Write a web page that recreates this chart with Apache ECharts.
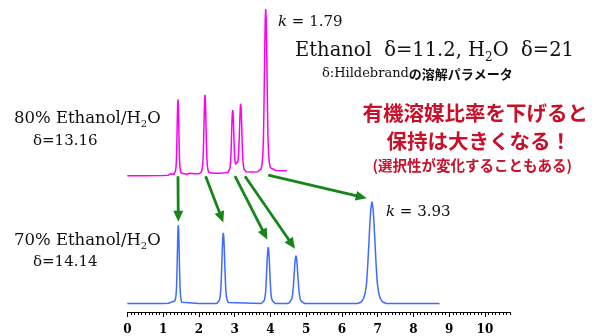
<!DOCTYPE html>
<html><head><meta charset="utf-8">
<script src="https://cdn.jsdelivr.net/npm/echarts@6/dist/echarts.min.js"></script>
<style>html,body{margin:0;padding:0;background:#fff}#c{width:599px;height:336px}</style>
</head><body><div id="c"></div>
<script>
// ---- data (retention time in min, detector signal) ----
const xTickLabels = ['0','1','2','3','4','5','6','7','8','9','10'];

// 80% Ethanol/H2O trace (magenta)
const magentaTrace = [
  [0,0],[0.5,0],[1.0,0.2],[1.15,0.5],[1.22,2],[1.27,1],[1.302,1.3],
  [1.331,2.5],[1.348,4.9],[1.363,9],[1.374,16.5],[1.383,28.5],[1.391,43.5],[1.4,60],[1.409,72],[1.417,76.4],
  [1.425,72],[1.434,60],[1.443,43.5],[1.451,28.5],[1.46,16.5],[1.471,9],[1.486,4.9],[1.503,2.6],[1.532,1.5],
  [1.65,1.5],[1.75,2.5],[1.8,2.8],[1.88,2],[2.0,2],
  [2.033,2.2],[2.068,3.4],[2.089,5.7],[2.106,10.1],[2.12,18],[2.131,30.6],[2.141,46.3],[2.152,63.7],[2.162,76.3],[2.172,81],
  [2.182,76.3],[2.192,63.7],[2.203,46.3],[2.214,30.6],[2.224,18],[2.238,10.1],[2.255,5.7],[2.276,3.4],[2.311,2.6],
  [2.4,2.5],[2.6,2.5],[2.75,3],
  [2.808,3.2],[2.843,4.5],[2.864,6.5],[2.881,10.5],[2.895,18],[2.906,29],[2.916,42],[2.926,55],[2.937,62.5],[2.947,65.7],
  [2.957,62.5],[2.967,55],[2.978,42.5],[2.989,30],[2.999,20],[3.013,14],[3.03,11.5],[3.055,10.7],[3.075,11.5],
  [3.092,14.5],[3.104,18],[3.114,24],[3.124,32],[3.135,43],[3.147,57],[3.159,68],[3.17,72],
  [3.181,68],[3.193,57],[3.205,42],[3.216,28],[3.228,17.5],[3.244,10.5],[3.263,6.5],[3.286,4.7],[3.326,4],[3.5,3.8],[3.65,4],
  [3.698,4.1],[3.741,6.7],[3.767,11.6],[3.789,20.5],[3.806,36.8],[3.819,62.8],[3.831,95.2],[3.845,131],[3.857,157],[3.87,166.7],
  [3.883,157],[3.895,131],[3.909,95.5],[3.921,63.5],[3.934,37.5],[3.951,21.5],[3.973,12.5],[3.999,8],[4.042,6],[4.15,5.2],[4.46,5]
];

// 70% Ethanol/H2O trace (blue)
const blueTrace = [
  [0,0],[0.5,0],[1.0,0],[1.15,0.2],[1.2,1.8],[1.24,1.5],[1.295,1.5],
  [1.328,2.5],[1.348,5],[1.364,9],[1.377,16.5],[1.387,29],[1.397,45],[1.407,62],[1.416,74.5],[1.426,79],
  [1.436,74.3],[1.445,61.6],[1.455,44.2],[1.465,28.4],[1.475,15.8],[1.488,7.9],[1.504,3.6],[1.524,1.2],[1.557,0],
  [2.0,0],[2.499,0],[2.546,1.1],[2.574,3.2],[2.597,7.1],[2.615,14.3],[2.629,25.7],[2.643,40],[2.657,55.7],[2.6705,67.1],[2.684,71.4],
  [2.6975,67.1],[2.711,55.7],[2.725,40],[2.739,25.7],[2.753,14.3],[2.771,7.1],[2.794,3.2],[2.822,1.1],[2.869,0],
  [3.743,0],[3.793,0.9],[3.822,2.6],[3.847,5.7],[3.867,11.4],[3.881,20.5],[3.896,31.9],[3.911,44.5],[3.926,53.6],[3.94,57],
  [3.954,53.6],[3.969,44.5],[3.984,31.9],[3.999,20.5],[4.013,11.4],[4.033,5.7],[4.058,2.6],[4.087,0.9],[4.137,0],
  [4.47,0],[4.532,0.7],[4.569,2.2],[4.6,4.8],[4.624,9.7],[4.643,17.4],[4.661,27.1],[4.68,37.8],[4.698,45.5],[4.716,48.4],
  [4.734,45.5],[4.752,37.8],[4.771,27.1],[4.789,17.4],[4.808,9.7],[4.832,4.8],[4.863,2.2],[4.9,0.7],[4.962,0],
  [6.44,0],[6.54,1.5],[6.6,4.6],[6.65,10.3],[6.69,20.6],[6.72,37.1],[6.75,57.7],[6.781,80.3],[6.811,96.8],[6.84,103],
  [6.869,96.8],[6.899,80.3],[6.93,57.7],[6.96,37.1],[6.99,20.6],[7.03,10.3],[7.08,4.6],[7.14,1.5],[7.24,0],[8.73,0]
];

// arrows: from a peak of the magenta trace to the same compound in the blue trace
const arrowStarts = [[1.417,-0.5],[2.19,-0.5],[3.011,-0.5],[3.29,-0.5],[3.94,0.5]];
const arrowEnds   = [[1.426,82.7],[2.684,82],[3.914,64.7],[4.688,55.4],[6.693,106.4]];

const X_MAX = 10.7;
const SERIF = "'DejaVu Serif', serif";
const JP = "'Noto Sans CJK JP', sans-serif";

const chart = echarts.init(document.getElementById('c'), null, {renderer: 'canvas'});
const gridLeft = 127.3, gridWidth = 382.7;

chart.setOption({
  animation: false,
  backgroundColor: '#fff',
  grid: [
    {left: gridLeft, width: gridWidth, top: 5.7, height: 171},
    {left: gridLeft, width: gridWidth, top: 194.7, height: 118.6}
  ],
  xAxis: [
    {gridIndex: 0, type: 'value', min: 0, max: X_MAX, show: false},
    {gridIndex: 1, type: 'value', min: 0, max: X_MAX, interval: 1, position: 'bottom',
      axisLine: {show: true, onZero: false, lineStyle: {color: '#000', width: 1}},
      axisTick: {show: true, length: 5, lineStyle: {color: '#000', width: 1}},
      splitLine: {show: false},
      axisLabel: {margin: 12, color: '#000', fontFamily: SERIF, fontWeight: 'bold', fontSize: 12,
        showMaxLabel: false,
        formatter: v => (Math.abs(v - Math.round(v)) < 1e-6 && xTickLabels[Math.round(v)] !== undefined) ? xTickLabels[Math.round(v)] : ''}
    },
    {gridIndex: 1, type: 'value', min: 0, max: X_MAX, interval: 0.1, position: 'bottom',
      axisLine: {show: false, onZero: false},
      axisTick: {show: true, length: 3, lineStyle: {color: '#000', width: 1}},
      axisLabel: {show: false}, splitLine: {show: false}
    }
  ],
  yAxis: [
    {gridIndex: 0, type: 'value', min: -1, max: 170, show: false},
    {gridIndex: 1, type: 'value', min: -8.6, max: 110, show: false}
  ],
  series: [
    {type: 'line', xAxisIndex: 0, yAxisIndex: 0, data: magentaTrace, showSymbol: false, symbol: 'none',
      lineStyle: {color: '#ff00ee', width: 1.5}, clip: false},
    {type: 'line', xAxisIndex: 1, yAxisIndex: 1, data: blueTrace, showSymbol: false, symbol: 'none',
      lineStyle: {color: '#3d6cff', width: 1.5}, clip: false}
  ]
});

function txt(x, y, text, fontSize, extra) {
  return {type: 'text', x: x, y: y, silent: true,
    style: Object.assign({text: text, fontFamily: SERIF, fontSize: fontSize, fill: '#111',
      verticalAlign: 'middle', align: 'left', lineHeight: Math.round(fontSize * 1.3),
      rich: {
        i: {fontStyle: 'italic', fontFamily: SERIF, fontSize: fontSize},
        s: {fontSize: Math.round(fontSize * 0.62), fontFamily: SERIF, lineHeight: Math.round(fontSize * 0.62), verticalAlign: 'bottom'}
      }}, extra || {})};
}

const GREEN = '#16861a';
function arrow(p0, p1) {
  const dx = p1[0] - p0[0], dy = p1[1] - p0[1], len = Math.hypot(dx, dy);
  const ux = dx / len, uy = dy / len, L = 11, W = 5;
  const bx = p1[0] - ux * L, by = p1[1] - uy * L;
  return [
    {type: 'line', silent: true, shape: {x1: p0[0], y1: p0[1], x2: bx + ux * 2, y2: by + uy * 2},
      style: {stroke: GREEN, lineWidth: 2.8}},
    {type: 'polygon', silent: true, shape: {points: [[p1[0], p1[1]], [bx - uy * W, by + ux * W], [bx + uy * W, by - ux * W]]},
      style: {fill: GREEN}}
  ];
}

const graphics = [];
arrowStarts.forEach((s, i) => {
  const p0 = chart.convertToPixel({xAxisIndex: 0, yAxisIndex: 0}, s);
  const p1 = chart.convertToPixel({xAxisIndex: 1, yAxisIndex: 1}, arrowEnds[i]);
  graphics.push(...arrow(p0, p1));
});

graphics.push(
  txt(278, 22, '{i|k} = 1.79', 15),
  txt(386, 212, '{i|k} = 3.93', 15),
  txt(295, 51, 'Ethanol  δ=11.2, H{s|2}O  δ=21', 19.5),
  txt(322, 74, '{b|δ:Hildebrand}{j|の溶解パラメータ}', 13, {rich: {
    b: {fontFamily: SERIF, fontSize: 13, fill: '#111'},
    j: {fontFamily: JP, fontSize: 13, fontWeight: 'bold', fill: '#111'}}}),
  txt(14, 119, '80% Ethanol/H{s|2}O', 16.5),
  txt(33, 141, 'δ=13.16', 15),
  txt(14, 241, '70% Ethanol/H{s|2}O', 16.5),
  txt(33, 262, 'δ=14.14', 15),
  txt(362.5, 113.5, '有機溶媒比率を下げると', 20.5, {fontFamily: JP, fontWeight: 'bold', fill: '#c8102a'}),
  txt(386.5, 141, '保持は大きくなる！', 20.5, {fontFamily: JP, fontWeight: 'bold', fill: '#c8102a'}),
  txt(372.5, 165.5, '(選択性が変化することもある)', 14.5, {fontFamily: JP, fontWeight: 'bold', fill: '#c8102a'})
);

chart.setOption({graphic: graphics});
</script>
</body></html>
